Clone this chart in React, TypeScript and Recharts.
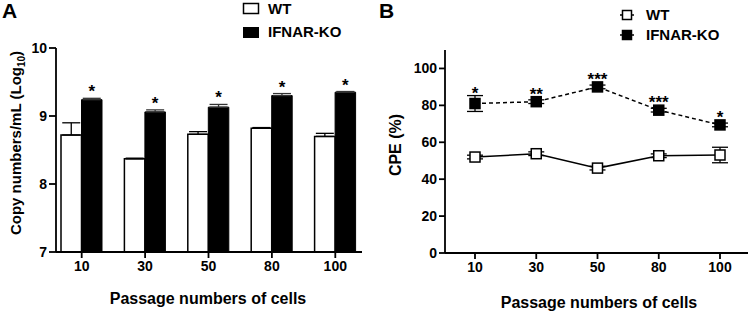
import React from 'react'
import { BarChart, Bar, LineChart, Line, XAxis, YAxis, ErrorBar, LabelList } from 'recharts'

// passages of cells (x categories)
const passages = ['10', '30', '50', '80', '100']

// panel A: copy numbers/mL (log10), mean and upper SD
const wtCopies = [8.72, 8.37, 8.73, 8.82, 8.7]
const wtCopiesErr = [0.18, 0.01, 0.04, 0.01, 0.045]
const koCopies = [9.24, 9.06, 9.13, 9.3, 9.35]
const koCopiesErr = [0.02, 0.03, 0.04, 0.03, 0.01]
const copyStars = ['*', '*', '*', '*', '*']
const copyTicks = [7, 8, 9, 10]

// panel B: CPE (%)
const wtCpe = [52.0, 53.8, 46.0, 52.7, 53.1]
const wtCpeErr = [1, 1, 1, 1, 4.2]
const koCpe = [81.0, 82.0, 90.0, 77.4, 69.4]
const koCpeErr = [4.3, 1, 1, 1, 1]
const cpeStars = ['*', '**', '***', '***', '*']
const cpeTicks = [0, 20, 40, 60, 80, 100]
const cpeMax = 110

const font = '"Liberation Sans", Arial, Helvetica, sans-serif'

const copyRows = passages.map((p, i) => ({
  passage: p,
  idx: i,
  wt: wtCopies[i],
  wtErr: [0, wtCopiesErr[i]],
  ko: koCopies[i],
  koErr: [0, koCopiesErr[i]],
}))

const cpeRows = passages.map((p, i) => ({
  passage: p,
  idx: i,
  wt: wtCpe[i],
  wtErr: wtCpeErr[i],
  ko: koCpe[i],
  koErr: koCpeErr[i],
}))

const W = 377
const H = 312
const bMargin = { top: 50, right: 6, bottom: 30, left: 0 }
const bXAxisH = 29

const axisLine = { stroke: '#000', strokeWidth: 1.8 }
const tickStyle = { fill: '#000', fontSize: 14, fontWeight: 700, fontFamily: font }

function BarStar(props: any) {
  const vb = props.viewBox ?? props
  const i = Number(props.value)
  const perUnit = vb.height / (koCopies[i] - copyTicks[0])
  const top = vb.y - koCopiesErr[i] * perUnit
  return (
    <text x={vb.x + vb.width / 2} y={top - 1} textAnchor="middle" fontSize={17} fontWeight={700} fontFamily={font} fill="#000">
      {copyStars[i]}
    </text>
  )
}

function PointStar(props: any) {
  const vb = props.viewBox ?? props
  const i = Number(props.value)
  const x = vb.x + (vb.width ?? 0) / 2
  const y = vb.y
  const perUnit = (H - bMargin.top - bMargin.bottom - bXAxisH) / cpeMax
  const errTop = y - koCpeErr[i] * perUnit
  const base = Math.min(y - 2, errTop + 3)
  return (
    <text x={x} y={base} textAnchor="middle" fontSize={17} fontWeight={700} fontFamily={font} fill="#000">
      {cpeStars[i]}
    </text>
  )
}

function squareDot(fill: string) {
  return (p: any) => (
    <rect key={`sq-${fill}-${p.index}`} x={p.cx - 5} y={p.cy - 5} width={10} height={10} fill={fill} stroke="#000" strokeWidth={1.5} />
  )
}

function BarLegend() {
  return (
    <svg width={130} height={42} style={{ display: 'block' }}>
      <rect x={3.5} y={3.5} width={15} height={10} fill="#fff" stroke="#000" strokeWidth={1.5} />
      <text x={28} y={14} fontSize={15} fontWeight={700} fontFamily={font}>WT</text>
      <rect x={3} y={27} width={16} height={11} fill="#000" />
      <text x={28} y={37} fontSize={15} fontWeight={700} fontFamily={font}>IFNAR-KO</text>
    </svg>
  )
}

function LineLegend() {
  return (
    <svg width={140} height={45} style={{ display: 'block' }}>
      <line x1={3} x2={17} y1={15} y2={15} stroke="#000" strokeWidth={1.5} />
      <rect x={5.5} y={10.5} width={9} height={9} fill="#fff" stroke="#000" strokeWidth={1.5} />
      <text x={29} y={20} fontSize={15} fontWeight={700} fontFamily={font}>WT</text>
      <line x1={3} x2={17} y1={35} y2={35} stroke="#000" strokeWidth={1.5} strokeDasharray="2 2" />
      <rect x={5.5} y={30.5} width={9} height={9} fill="#000" stroke="#000" strokeWidth={1.5} />
      <text x={29} y={40} fontSize={15} fontWeight={700} fontFamily={font}>IFNAR-KO</text>
    </svg>
  )
}

const panelLetter = (left: number): React.CSSProperties => ({
  position: 'absolute',
  left,
  top: 0,
  lineHeight: '22px',
  fontFamily: font,
  fontWeight: 700,
  fontSize: 21,
  color: '#000',
})

export default function App() {
  return (
    <div style={{ position: 'absolute', left: 0, top: 0, width: 754, height: 312, background: '#fff', overflow: 'hidden' }}>
      <div style={{ position: 'absolute', left: 0, top: 0 }}>
        <BarChart width={W} height={H} data={copyRows} margin={{ top: 48, right: 15, bottom: 30, left: 0 }} barGap={0} barSize={20.5}>
          <XAxis
            dataKey="passage"
            height={30}
            padding={{ left: -6, right: -5 }}
            axisLine={axisLine}
            tickLine={axisLine}
            tickSize={6}
            tickMargin={3.5}
            tick={tickStyle}
            label={() => (
              <text x={208} y={304} textAnchor="middle" fontSize={16} fontWeight={700} fontFamily={font} fill="#000">
                Passage numbers of cells
              </text>
            )}
          />
          <YAxis
            width={56}
            domain={[7, 10]}
            ticks={copyTicks}
            axisLine={axisLine}
            tickLine={axisLine}
            tickSize={7}
            tickMargin={2}
            tick={tickStyle}
            label={() => (
              <text transform="translate(21,143) rotate(-90)" textAnchor="middle" fontSize={15} fontWeight={700} fontFamily={font} fill="#000">
                Copy numbers/mL (Log<tspan fontSize={10} dy={4}>10</tspan><tspan dy={-4}>)</tspan>
              </text>
            )}
          />
          <Bar dataKey="wt" name="WT" fill="#fff" stroke="#000" strokeWidth={1.5} isAnimationActive={false}>
            <ErrorBar dataKey="wtErr" direction="y" width={9} stroke="#000" strokeWidth={1.3} />
          </Bar>
          <Bar dataKey="ko" name="IFNAR-KO" fill="#000" stroke="#000" strokeWidth={1} isAnimationActive={false}>
            <ErrorBar dataKey="koErr" direction="y" width={9} stroke="#333" strokeWidth={1.3} />
            <LabelList dataKey="idx" content={<BarStar />} />
          </Bar>
        </BarChart>
      </div>
      <div style={{ position: 'absolute', left: 240, top: 0 }}>
        <BarLegend />
      </div>

      <div style={{ position: 'absolute', left: 377, top: 0 }}>
        <LineChart width={W} height={H} data={cpeRows} margin={bMargin}>
          <XAxis
            dataKey="passage"
            height={bXAxisH}
            padding={{ left: 30, right: 28 }}
            axisLine={axisLine}
            tickLine={axisLine}
            tickSize={6}
            tickMargin={3.5}
            tick={tickStyle}
            label={() => (
              <text x={222} y={308} textAnchor="middle" fontSize={16} fontWeight={700} fontFamily={font} fill="#000">
                Passage numbers of cells
              </text>
            )}
          />
          <YAxis
            width={68}
            domain={[0, cpeMax]}
            ticks={cpeTicks}
            axisLine={axisLine}
            tickLine={axisLine}
            tickSize={6}
            tickMargin={2}
            tick={tickStyle}
            label={() => (
              <text transform="translate(24,145) rotate(-90)" textAnchor="middle" fontSize={16} fontWeight={700} fontFamily={font} fill="#000">
                CPE (%)
              </text>
            )}
          />
          <Line
            dataKey="wt"
            name="WT"
            stroke="#000"
            strokeWidth={1.5}
            dot={squareDot('#fff')}
            activeDot={false}
            isAnimationActive={false}
          >
            <ErrorBar dataKey="wtErr" direction="y" width={8} stroke="#000" strokeWidth={1.3} />
          </Line>
          <Line
            dataKey="ko"
            name="IFNAR-KO"
            stroke="#000"
            strokeWidth={1.5}
            strokeDasharray="4 3"
            dot={squareDot('#000')}
            activeDot={false}
            isAnimationActive={false}
          >
            <ErrorBar dataKey="koErr" direction="y" width={8} stroke="#000" strokeWidth={1.3} />
            <LabelList dataKey="idx" content={<PointStar />} />
          </Line>
        </LineChart>
      </div>
      <div style={{ position: 'absolute', left: 617, top: 0 }}>
        <LineLegend />
      </div>

      <div style={panelLetter(2)}>A</div>
      <div style={panelLetter(379)}>B</div>
    </div>
  )
}
